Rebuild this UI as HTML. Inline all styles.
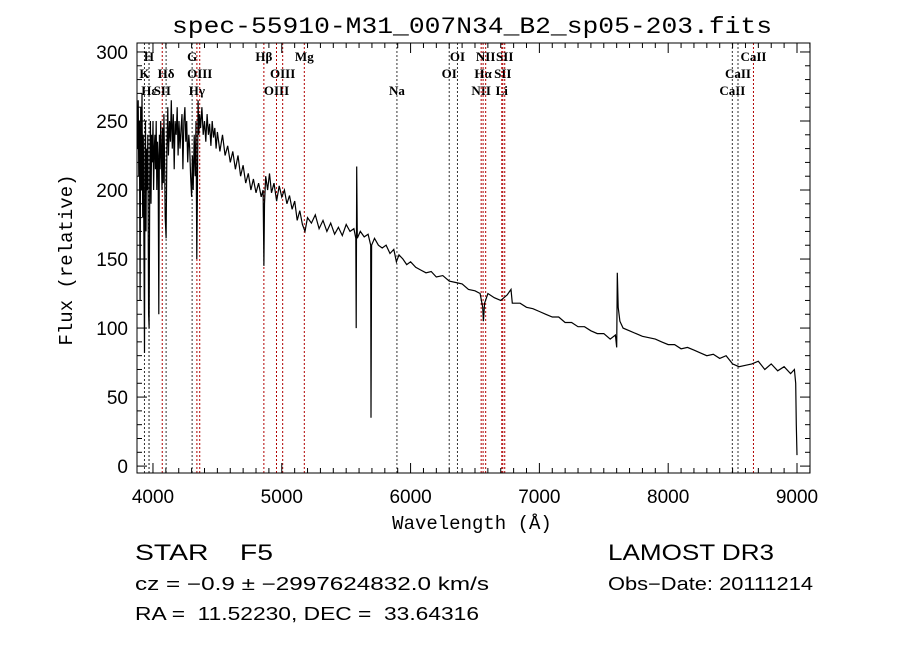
<!DOCTYPE html>
<html><head><meta charset="utf-8"><style>
body{margin:0;background:#fff;}
svg{display:block;font-family:"Liberation Sans",sans-serif;}
text{white-space:pre;}
</style></head><body>
<svg id="chart" width="900" height="649" viewBox="0 0 900 649" xmlns="http://www.w3.org/2000/svg" xml:space="preserve">
<rect width="900" height="649" fill="#fff"/>
<text x="472" y="33" text-anchor="middle" font-family="Liberation Mono, monospace" font-size="23" textLength="600" lengthAdjust="spacingAndGlyphs">spec-55910-M31_007N34_B2_sp05-203.fits</text>
<g id="lines"></g>
<g id="axes"></g>
<path id="spec" fill="none" stroke="#000" stroke-width="1.2"/>
<rect x="137" y="43" width="673" height="430" fill="none" stroke="#000" stroke-width="1"/>
<text x="472" y="529" text-anchor="middle" font-family="Liberation Mono, monospace" font-size="19">Wavelength (Å)</text>
<text transform="translate(72,260) rotate(-90)" text-anchor="middle" font-family="Liberation Mono, monospace" font-size="19">Flux (relative)</text>
<text x="135" y="560" font-size="22" textLength="138" lengthAdjust="spacingAndGlyphs">STAR    F5</text>
<text x="608" y="560" font-size="22" textLength="166" lengthAdjust="spacingAndGlyphs">LAMOST DR3</text>
<text x="135" y="590" font-size="18" textLength="354" lengthAdjust="spacingAndGlyphs">cz = −0.9 ± −2997624832.0 km/s</text>
<text x="608" y="590" font-size="18" textLength="205" lengthAdjust="spacingAndGlyphs">Obs−Date: 20111214</text>
<text x="135" y="620" font-size="18" textLength="344" lengthAdjust="spacingAndGlyphs">RA =  11.52230, DEC =  33.64316</text>
</svg>
<script>
const wavelengths=[3880,3885,3890,3895,3900,3905,3910,3915,3920,3925,3930,3934,3938,3942,3946,3950,3955,3960,3966,3970,3975,3980,3985,3990,3995,4000,4005,4010,4015,4020,4025,4030,4035,4040,4045,4050,4055,4060,4065,4070,4075,4080,4085,4090,4095,4102,4108,4115,4120,4128,4135,4142,4150,4158,4165,4172,4180,4188,4195,4202,4210,4218,4225,4232,4240,4248,4255,4262,4270,4278,4285,4292,4300,4306,4312,4320,4328,4334,4340,4344,4350,4356,4362,4370,4380,4390,4400,4410,4420,4430,4440,4450,4460,4470,4480,4490,4500,4520,4540,4560,4580,4600,4620,4640,4660,4680,4700,4720,4740,4760,4780,4800,4820,4840,4855,4861,4866,4875,4890,4905,4920,4940,4960,4980,5000,5020,5040,5060,5080,5100,5120,5140,5160,5180,5200,5230,5260,5290,5320,5350,5380,5410,5440,5470,5500,5530,5560,5575,5578,5582,5586,5610,5640,5670,5690,5693,5697,5720,5750,5780,5810,5840,5870,5890,5910,5940,5970,6000,6040,6080,6120,6160,6200,6250,6300,6350,6400,6450,6500,6540,6560,6565,6575,6600,6650,6700,6750,6780,6790,6850,6900,6950,7000,7050,7100,7150,7200,7250,7300,7350,7400,7450,7500,7550,7590,7600,7605,7612,7625,7650,7700,7750,7800,7850,7900,7950,8000,8050,8100,8150,8200,8250,8300,8350,8400,8450,8500,8550,8600,8650,8700,8750,8800,8850,8900,8950,8980,8990,8995,9000];
const fluxes=[230,265,210,250,120,260,200,270,180,240,150,82,220,250,170,230,200,240,110,100,210,250,190,240,220,250,200,230,240,215,250,200,235,225,110,240,215,250,230,200,245,205,255,220,180,165,230,260,225,250,235,265,230,255,215,250,240,260,225,250,230,245,255,215,250,260,235,250,220,240,230,210,195,225,200,240,210,250,150,190,265,240,255,245,260,240,250,235,255,240,248,232,250,238,245,230,242,228,240,225,232,220,228,215,225,210,218,205,212,200,208,198,205,195,200,145,190,210,200,212,198,205,192,203,195,200,190,196,186,192,178,185,175,170,180,176,182,172,178,170,176,168,173,167,175,170,172,165,100,217,165,170,166,168,160,35,160,165,160,158,160,154,157,148,153,150,146,148,144,142,140,141,137,138,134,133,132,128,127,125,115,105,118,125,122,120,124,128,118,118,115,114,112,110,108,108,104,104,101,101,98,96,96,92,95,86,140,115,105,100,98,96,94,93,92,90,88,88,85,86,84,82,80,81,78,80,74,72,73,74,76,70,74,69,72,67,70,60,30,8];
const lineWaves=[3934,3969,3970,4072,4102,4304,4341,4363,4861,4959,5007,5175,5894,6300,6364,6548,6563,6583,6708,6716,6731,8498,8542,8662];
const lineNames=["K","H","Hε","SII","Hδ","G","Hγ","OIII","Hβ","OIII","OIII","Mg","Na","OI","OI","NII","Hα","NII","Li","SII","SII","CaII","CaII","CaII"];
const lineRows=[1,0,2,2,1,0,2,1,0,2,1,0,2,1,0,2,1,0,2,1,0,2,1,0];
const lineDark=[1,1,1,0,1,1,0,0,0,0,0,0,1,1,1,0,0,0,0,0,0,1,1,0];
const xTicks=[4000,5000,6000,7000,8000,9000];
const yTicks=[0,50,100,150,200,250,300];
const NS="http://www.w3.org/2000/svg";
const X0=137,X1=810,Y0=43,Y1=473;
const xmin=3876,xmax=9101,ymin=-5,ymax=306.5;
const xs=w=>X0+(w-xmin)/(xmax-xmin)*(X1-X0);
const ys=f=>Y1-(f-ymin)/(ymax-ymin)*(Y1-Y0);
function mk(t,a,p){const e=document.createElementNS(NS,t);for(const k in a)e.setAttribute(k,a[k]);p.appendChild(e);return e;}
let d="";
wavelengths.forEach((w,i)=>{d+=(i?"L":"M")+xs(w).toFixed(1)+" "+ys(fluxes[i]).toFixed(1);});
document.getElementById("spec").setAttribute("d",d);
const lg=document.getElementById("lines");
lineWaves.forEach((w,i)=>{
 const x=xs(w);
 const l=mk("line",{x1:x,x2:x,y1:Y0,y2:Y1,stroke:lineDark[i]?"#333":"#b00000","stroke-width":1,"stroke-dasharray":"2,2"},lg);
 
 
 const t=mk("text",{x:x,y:61+lineRows[i]*17,"text-anchor":"middle","font-family":"Liberation Serif, serif","font-size":13,"font-weight":"bold"},lg);
 t.textContent=lineNames[i];
 
 
});
const ag=document.getElementById("axes");
for(let w=4000;w<=9100;w+=100){const x=xs(w);const big=w%1000===0;
 mk("line",{x1:x,x2:x,y1:Y1,y2:Y1-(big?10:5),stroke:"#000"},ag);
 mk("line",{x1:x,x2:x,y1:Y0,y2:Y0+(big?10:5),stroke:"#000"},ag);}
for(let f=0;f<=300;f+=10){const y=ys(f);const big=f%50===0;
 mk("line",{x1:X0,x2:X0+(big?10:5),y1:y,y2:y,stroke:"#000"},ag);
 mk("line",{x1:X1,x2:X1-(big?10:5),y1:y,y2:y,stroke:"#000"},ag);}
xTicks.forEach(v=>{const t=mk("text",{x:xs(v),y:503,"text-anchor":"middle","font-size":19},ag);t.textContent=v;
 
 });
yTicks.forEach(v=>{const t=mk("text",{x:128,y:ys(v)+7,"text-anchor":"end","font-size":19},ag);t.textContent=v;
 
 });
</script>
</body></html>
